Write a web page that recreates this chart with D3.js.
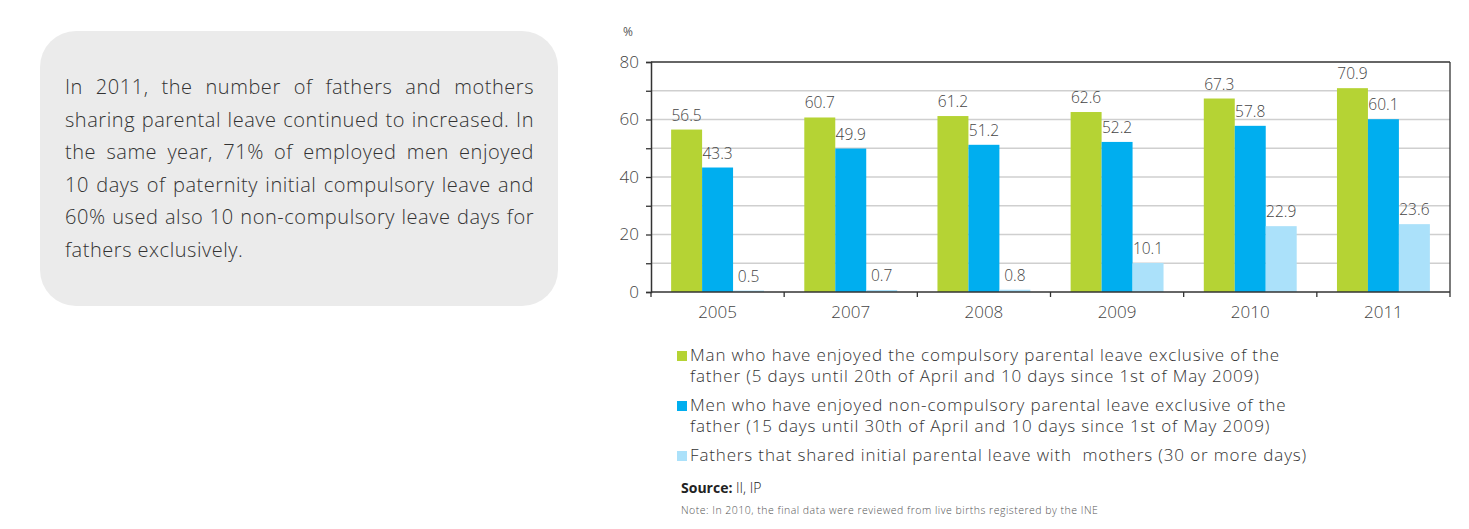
<!DOCTYPE html>
<html>
<head>
<meta charset="utf-8">
<script src="https://cdn.jsdelivr.net/npm/d3@7"></script>
<style>
  html, body { margin: 0; padding: 0; background: #fff; }
  svg { display: block; font-family: "Open Sans", "Lato", sans-serif; }
  .pre { white-space: pre; }
</style>
</head>
<body>
<svg id="chart" width="1469" height="529"></svg>
<script>
// Years and the three series of fathers taking leave (%)
const years = ["2005", "2007", "2008", "2009", "2010", "2011"];
const compulsory = [56.5, 60.7, 61.2, 62.6, 67.3, 70.9];
const nonCompulsory = [43.3, 49.9, 51.2, 52.2, 57.8, 60.1];
const shared = [0.5, 0.7, 0.8, 10.1, 22.9, 23.6];
const yTicks = [0, 20, 40, 60, 80];
const yMinorTicks = [10, 30, 50, 70];

const seriesNames = [
  ["Man who have enjoyed the compulsory parental leave exclusive of the",
   "father (5 days until 20th of April and 10 days since 1st of May 2009)"],
  ["Men who have enjoyed non-compulsory parental leave exclusive of the",
   "father (15 days until 30th of April and 10 days since 1st of May 2009)"],
  ["Fathers that shared initial parental leave with  mothers (30 or more days)"]
];
const seriesColors = ["#b5d334", "#00aeef", "#abe1fa"];

const introLines = [
  "In 2011, the number of fathers and mothers",
  "sharing parental leave continued to increased. In",
  "the same year, 71% of employed men enjoyed",
  "10 days of paternity initial compulsory leave and",
  "60% used also 10 non-compulsory leave days for",
  "fathers exclusively."
];

const svg = d3.select("#chart");

// ---- Intro text box ----
const box = { x: 40, y: 31, w: 518, h: 275, r: 36 };
svg.append("rect")
  .attr("x", box.x).attr("y", box.y)
  .attr("width", box.w).attr("height", box.h)
  .attr("rx", box.r).attr("ry", box.r)
  .attr("fill", "#ebebeb");

// justified paragraph: words spread to fill each line except the last
const textLeft = 65, textRight = 534, lineH = 32.6, firstBase = 94;
introLines.forEach((line, i) => {
  const g = svg.append("g");
  const words = line.split(" ");
  const y = firstBase + i * lineH;
  const isLast = i === introLines.length - 1;
  const nodes = words.map(w => g.append("text")
    .attr("y", y)
    .attr("font-size", 20)
    .attr("font-weight", 300)
    .attr("letter-spacing", 0.55)
    .attr("fill", "#333")
    .text(w));
  const widths = nodes.map(n => n.node().getComputedTextLength());
  const total = d3.sum(widths);
  const spaceW = 5.5;
  const gap = isLast || words.length < 2 ? spaceW : (textRight - textLeft - total) / (words.length - 1);
  let x = textLeft;
  nodes.forEach((n, k) => { n.attr("x", x); x += widths[k] + gap; });
});

// ---- Bar chart ----
const plot = { left: 651, right: 1450, top: 62, bottom: 292 };

const x0 = d3.scaleBand().domain(years).range([plot.left, plot.right]).paddingInner(0).paddingOuter(0);
const x1 = d3.scaleBand().domain([0, 1, 2]).range([0, x0.bandwidth()]).paddingOuter(0.65).paddingInner(0);
const y = d3.scaleLinear().domain([0, 80]).range([plot.bottom, plot.top]);

// gridlines
svg.append("g")
  .selectAll("line")
  .data(yMinorTicks.concat(yTicks.slice(1, -1)))
  .join("line")
  .attr("x1", plot.left).attr("x2", plot.right)
  .attr("y1", d => y(d)).attr("y2", d => y(d))
  .attr("stroke", "#cfcfcf").attr("stroke-width", 1.3);

// bars
const series = [compulsory, nonCompulsory, shared];
const groups = svg.append("g")
  .selectAll("g")
  .data(years)
  .join("g")
  .attr("transform", d => `translate(${x0(d)},0)`);

groups.selectAll("rect")
  .data((d, i) => series.map((s, k) => ({ k, v: s[i] })))
  .join("rect")
  .attr("x", d => x1(d.k))
  .attr("width", x1.bandwidth())
  .attr("y", d => y(d.v))
  .attr("height", d => y(0) - y(d.v))
  .attr("fill", d => seriesColors[d.k]);

groups.selectAll("text.val")
  .data((d, i) => series.map((s, k) => ({ k, v: s[i] })))
  .join("text")
  .attr("class", "val")
  .attr("x", d => x1(d.k) + x1.bandwidth() / 2)
  .attr("y", d => y(d.v) - 9)
  .attr("text-anchor", "middle")
  .attr("font-size", 15.5)
  .attr("font-weight", 300)
  .attr("fill", "#444")
  .text(d => d3.format(".1f")(d.v));

// frame: top and right edges
svg.append("line")
  .attr("x1", plot.left).attr("x2", plot.right)
  .attr("y1", plot.top).attr("y2", plot.top)
  .attr("stroke", "#333").attr("stroke-width", 1.3);
svg.append("line")
  .attr("x1", plot.right).attr("x2", plot.right)
  .attr("y1", plot.top).attr("y2", plot.bottom)
  .attr("stroke", "#333").attr("stroke-width", 1.3);

// y axis
const yAxis = d3.axisLeft(y)
  .tickValues(yTicks.concat(yMinorTicks))
  .tickSize(5)
  .tickPadding(7)
  .tickFormat(d => yTicks.includes(d) ? d : "");
const yg = svg.append("g")
  .attr("transform", `translate(${plot.left},0)`)
  .call(yAxis);
yg.select(".domain").attr("stroke", "#333").attr("stroke-width", 1.5);
yg.selectAll(".tick line").attr("stroke", "#333").attr("stroke-width", 1.3);
yg.selectAll(".tick text")
  .attr("font-size", 17).attr("font-weight", 300)
  .attr("fill", "#444").attr("font-family", "'Open Sans', sans-serif");

svg.append("text")
  .attr("x", 628).attr("y", 36)
  .attr("text-anchor", "middle")
  .attr("font-size", 12)
  .attr("fill", "#555")
  .text("%");

// x axis with ticks at band boundaries
const xg = svg.append("g").attr("transform", `translate(0,${plot.bottom})`);
xg.append("line")
  .attr("x1", plot.left).attr("x2", plot.right)
  .attr("stroke", "#333").attr("stroke-width", 1.5);
xg.selectAll("line.sep")
  .data(years.concat(["end"]))
  .join("line")
  .attr("class", "sep")
  .attr("x1", (d, i) => i < years.length ? x0(d) : plot.right)
  .attr("x2", (d, i) => i < years.length ? x0(d) : plot.right)
  .attr("y1", 0).attr("y2", 5)
  .attr("stroke", "#333").attr("stroke-width", 1.3);
xg.selectAll("text")
  .data(years)
  .join("text")
  .attr("x", d => x0(d) + x0.bandwidth() / 2)
  .attr("y", 26)
  .attr("text-anchor", "middle")
  .attr("font-size", 17)
  .attr("font-weight", 300)
  .attr("fill", "#444")
  .text(d => d);

// ---- Legend ----
const legendTops = [361, 411, 461];
seriesNames.forEach((lines, k) => {
  const base = legendTops[k];
  svg.append("rect")
    .attr("x", 677).attr("y", base - 10)
    .attr("width", 10).attr("height", 10)
    .attr("fill", seriesColors[k]);
  lines.forEach((t, j) => {
    svg.append("text")
      .attr("class", "pre")
      .attr("x", 690)
      .attr("y", base + j * 21)
      .attr("font-size", 17)
      .attr("font-weight", 300)
      .attr("letter-spacing", 0.85)
      .attr("fill", "#333")
      .text(t);
  });
});

// ---- Source and note ----
const src = svg.append("text")
  .attr("x", 681).attr("y", 493)
  .attr("font-size", 14)
  .attr("fill", "#222");
src.append("tspan").attr("font-weight", 700).text("Source:");
src.append("tspan").attr("font-weight", 300).text(" II, IP");

svg.append("text")
  .attr("x", 681).attr("y", 514)
  .attr("font-size", 10.5)
  .attr("font-weight", 300)
  .attr("letter-spacing", 0.5)
  .attr("fill", "#555")
  .text("Note: In 2010, the final data were reviewed from live births registered by the INE");
</script>
</body>
</html>
